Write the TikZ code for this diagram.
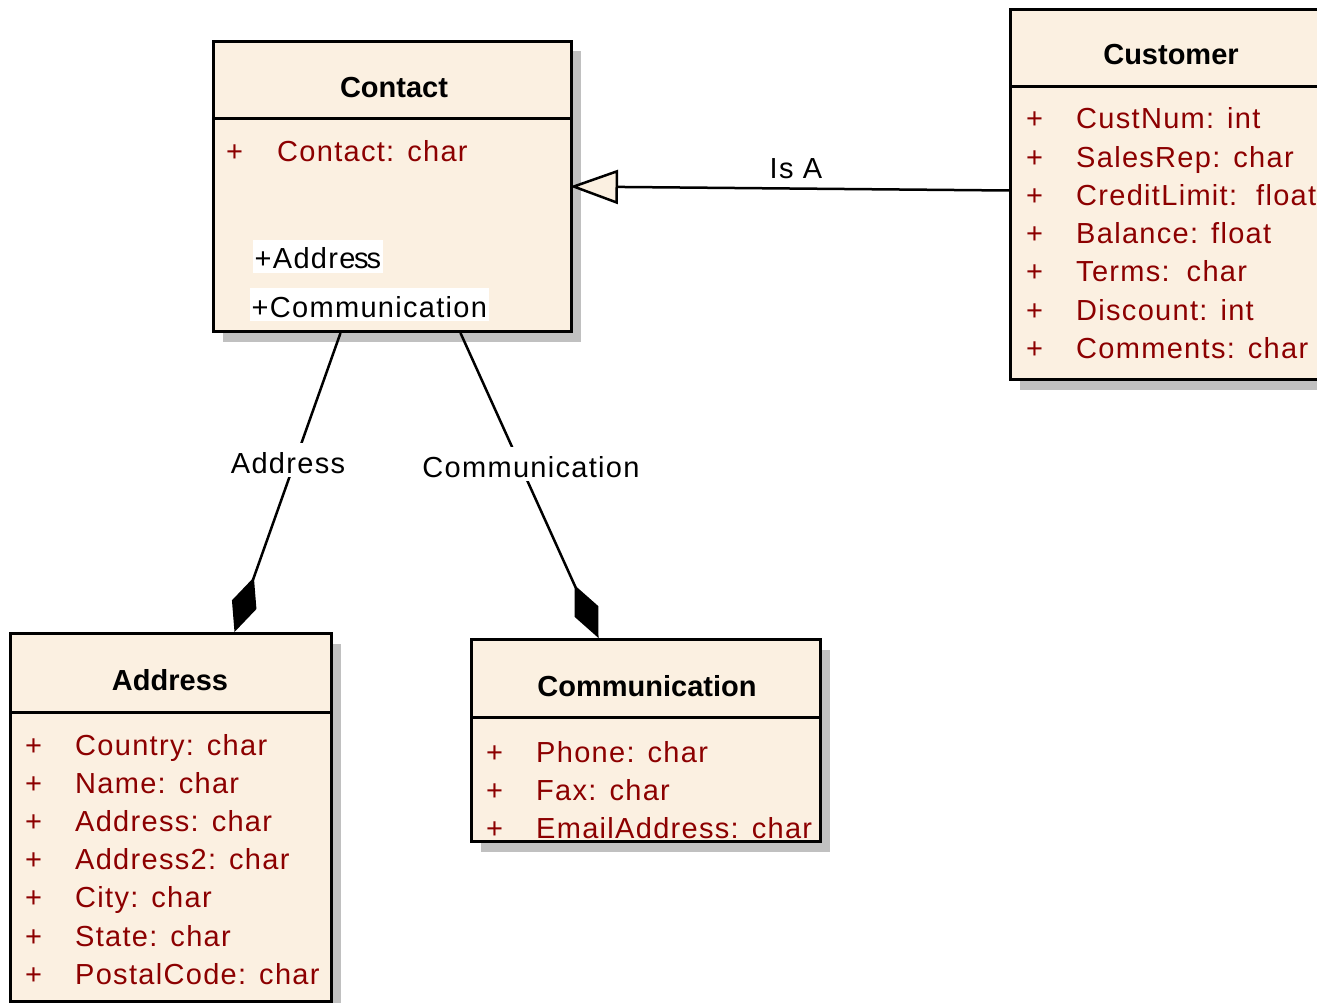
\documentclass[tikz,border=0pt]{standalone}
\usepackage{fontspec}
\setmainfont{Liberation Sans}
\newfontfamily\spacedfont[LetterSpace=4.5]{Liberation Sans}
\usetikzlibrary{arrows.meta,shadows}
\definecolor{cream}{RGB}{251,240,225}
\definecolor{attrred}{RGB}{140,0,0}
\definecolor{shadowgray}{RGB}{192,192,192}
\newcommand{\txtsize}{\fontsize{29pt}{34pt}\selectfont}
\newcommand{\sep}{\hspace{13pt}}
\tikzset{
  umlbox/.style={draw=black, line width=3pt, fill=cream, inner sep=0pt, anchor=north west,
    drop shadow={shadow xshift=9pt, shadow yshift=-10pt, fill=shadowgray, opacity=1}},
  divider/.style={line width=3pt, draw=black},
  title/.style={font=\txtsize\bfseries, anchor=base, inner sep=0pt},
  attr/.style={font=\txtsize\spacedfont, text=attrred, anchor=base west, inner sep=0pt},
  rolelbl/.style={font=\txtsize\spacedfont, text=black, fill=white, anchor=base west,
    inner xsep=1.5pt, inner ysep=0pt, text height=29pt, text depth=4pt},
  connlbl/.style={font=\txtsize\spacedfont, text=black, fill=white, anchor=base,
    inner xsep=1pt, inner ysep=0pt, text height=30pt, text depth=4pt},
  plainlbl/.style={font=\txtsize\spacedfont, text=black, anchor=base, inner sep=0pt},
  conn/.style={line width=2.5pt, draw=black, line join=miter},
  gen/.style={conn, -{Triangle[length=48pt, width=34pt, fill=cream, line width=2.5pt]}},
  comp/.style={conn, -{Diamond[length=58pt, width=26pt]}}
}
\begin{document}
\begin{tikzpicture}[x=1pt, y=-1pt]
\useasboundingbox (0,0) rectangle (1317,1003);
% boxes
\node[umlbox, minimum width=358pt, minimum height=290pt] (contact) at (212,40) {};
\node[umlbox, minimum width=335pt, minimum height=370pt] (customer) at (1009,8) {};
\node[umlbox, minimum width=321pt, minimum height=368pt] (address) at (9,632) {};
\node[umlbox, minimum width=349pt, minimum height=202pt] (comm) at (470,638) {};
% dividers
\draw[divider] (212,119) -- (570,119);
\draw[divider] (1009,87) -- (1344,87);
\draw[divider] (9,712) -- (330,712);
\draw[divider] (470,717) -- (819,717);
% titles
\node[title] (contact-title) at (394,98) {Contact};
\node[title] (customer-title) at (1171,65) {Customer};
\node[title] (address-title) at (170,690) {Address};
\node[title] (comm-title) at (647,696) {Communication};
% Contact attributes
\node[attr] (ct-p1) at (226,162) {+};
\node[attr] (ct-t1) at (277,162) {Contact:\sep char};
\node[rolelbl] (role-a) at (253,269) {+Addre\kern-1.5pt s\kern-2pt s};
\node[rolelbl] (role-c) at (250,317) {+Communication};
% Customer attributes
\foreach \t [count=\i] in {CustNum:\sep int, SalesRep:\sep char, CreditLimit:\hspace{19pt}float, Balance:\sep float, Terms:\hspace{17pt}char, Discount:\sep int, Comments:\sep char}{
  \node[attr] (cu-p\i) at (1026,{129+38.2*(\i-1)}) {+};
  \node[attr] (cu-t\i) at (1076,{129+38.2*(\i-1)}) {\t};
}
% Address attributes
\foreach \t [count=\i] in {Country:\sep char, Name:\sep char, Address:\sep char, Address2:\sep char, City:\sep char, State:\sep char, PostalCode:\sep char}{
  \node[attr] (ad-p\i) at (25,{755+38.2*(\i-1)}) {+};
  \node[attr] (ad-t\i) at (75,{755+38.2*(\i-1)}) {\t};
}
% Communication attributes
\foreach \t [count=\i] in {Phone:\sep char, Fax:\sep char, EmailAddress:\sep char}{
  \node[attr] (cm-p\i) at (486,{762+38*(\i-1)}) {+};
  \node[attr] (cm-t\i) at (536,{762+38*(\i-1)}) {\t};
}
% connectors
\draw[gen] ([yshift=4pt]customer.west) -- ([xshift=-3pt]contact.east);
\node[plainlbl] (isa) at (796,179) {Is A};
\draw[comp] ([xshift=-52pt]contact.south) -- ([xshift=63.5pt]address.north);
\node[connlbl] (lbl-address) at (288,473) {Address};
\draw[comp] ([xshift=68pt]contact.south) -- ([xshift=-47.5pt]comm.north);
\node[connlbl] (lbl-comm) at (531,477) {Communication};
\end{tikzpicture}
\end{document}
